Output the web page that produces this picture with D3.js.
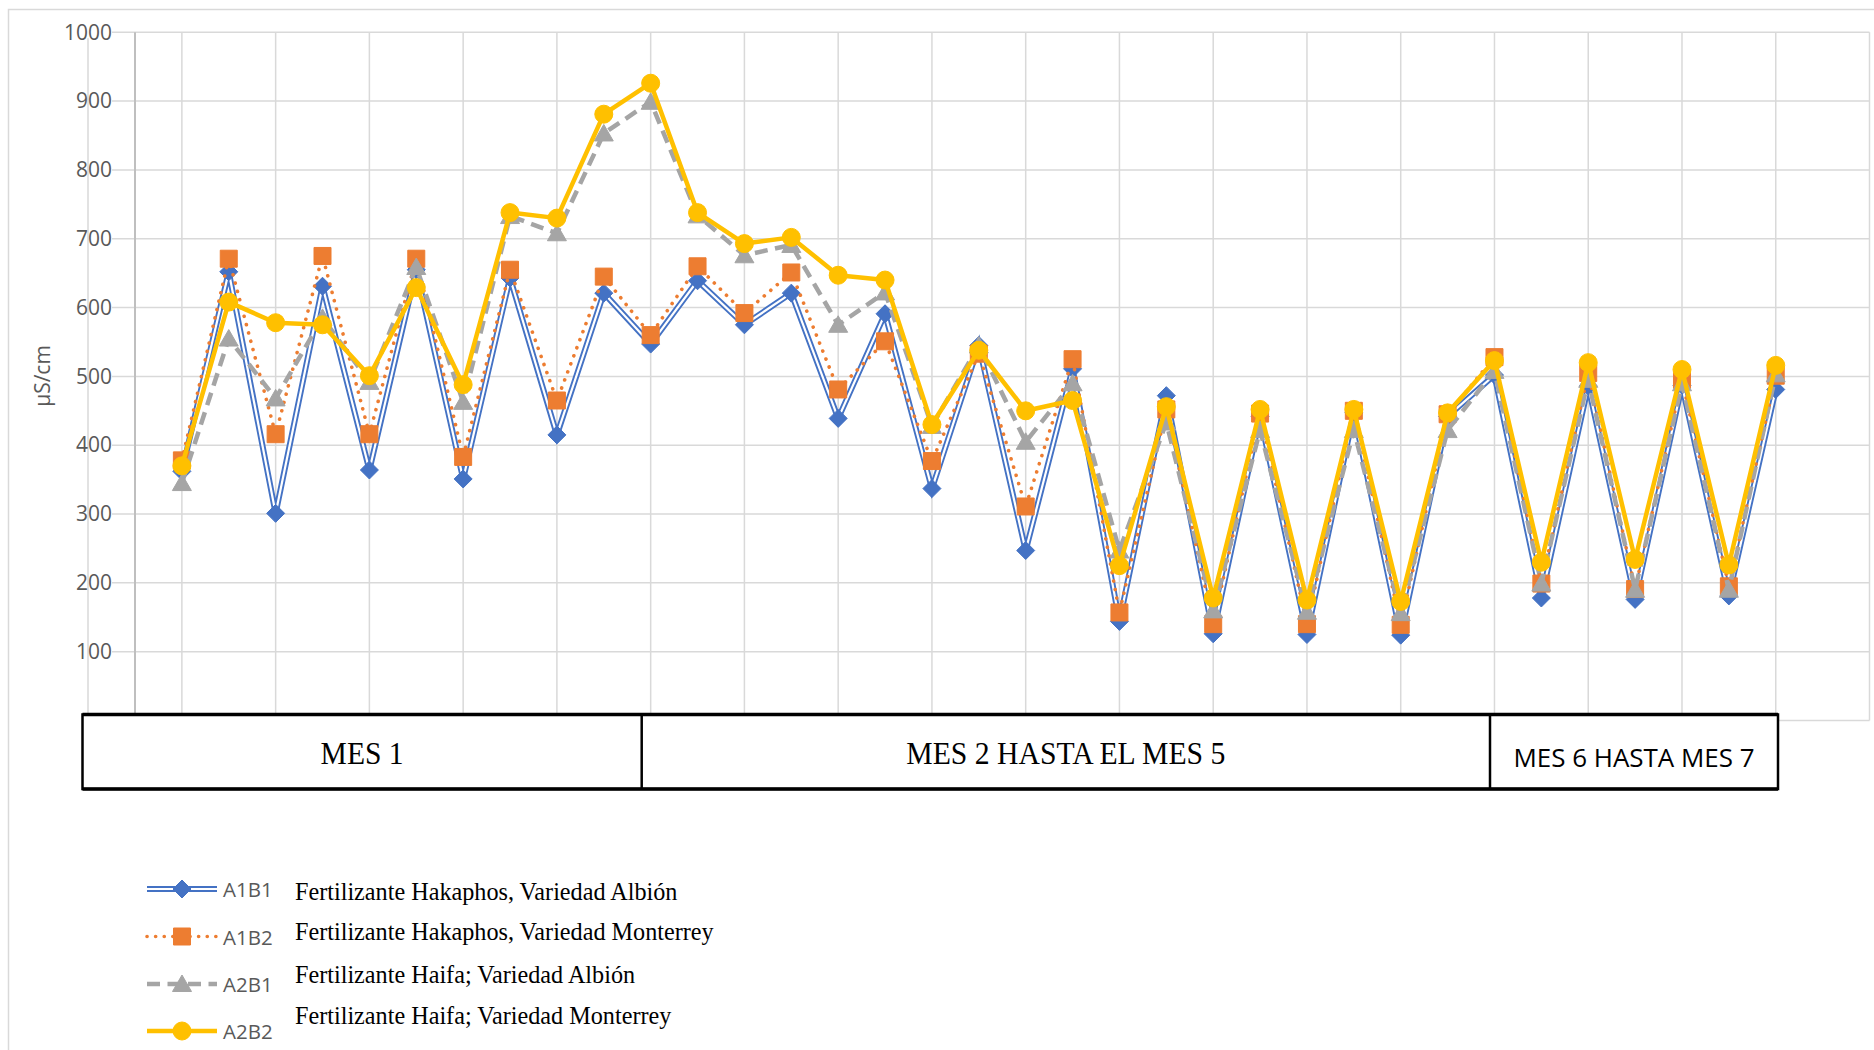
<!DOCTYPE html>
<html>
<head>
<meta charset="utf-8">
<script src="https://cdn.jsdelivr.net/npm/d3@7"></script>
<style>
  html, body { margin: 0; padding: 0; background: #fff; }
  svg { display: block; }
</style>
</head>
<body>
<svg id="chart" width="1874" height="1050"></svg>
<script>
// Conductividad eléctrica (µS/cm) por muestreo y tratamiento
const samplings = d3.range(1, 36);

const a1b1 = [362, 652, 301, 631, 364, 655, 351, 643, 415, 621, 547, 639, 575, 621, 439, 591, 337, 545, 247, 511,
              144, 472, 126, 442, 125, 447, 124, 442, 502, 178, 486, 176, 487, 181, 481];
const a1b2 = [378, 671, 416, 675, 416, 671, 383, 655, 465, 645, 560, 660, 592, 651, 481, 551, 377, 533, 311, 525,
              157, 452, 140, 446, 140, 450, 139, 445, 528, 199, 505, 191, 495, 195, 501];
const a2b1 = [345, 555, 468, 585, 492, 659, 463, 733, 708, 853, 899, 734, 676, 691, 575, 622, 428, 545, 405, 490,
              247, 433, 160, 422, 158, 422, 156, 422, 508, 199, 495, 190, 490, 190, 503];
const a2b2 = [370, 608, 578, 575, 501, 629, 488, 738, 730, 881, 926, 738, 693, 702, 647, 640, 430, 538, 450, 465,
              225, 456, 178, 452, 175, 452, 173, 447, 523, 230, 520, 234, 510, 226, 516];

const yTicks = [100, 200, 300, 400, 500, 600, 700, 800, 900, 1000];
const gridValues = [0, 100, 200, 300, 400, 500, 600, 700, 800, 900, 1000];

const periods = ["MES 1", "MES 2 HASTA EL MES 5", "MES 6 HASTA MES 7"];
const seriesCodes = ["A1B1", "A1B2", "A2B1", "A2B2"];
const seriesNames = [
  "Fertilizante Hakaphos, Variedad Albión",
  "Fertilizante Hakaphos, Variedad Monterrey",
  "Fertilizante Haifa; Variedad Albión",
  "Fertilizante Haifa; Variedad Monterrey"
];
const yTitle = "µS/cm";

// ---- layout ----
const svg = d3.select("#chart");
const plot = { left: 135, right: 1869.5, top: 32.3, bottom: 720.5 };
const x = d3.scaleLinear().domain([0, 37]).range([plot.left, plot.right]);
const y = d3.scaleLinear().domain([0, 1000]).range([plot.bottom, plot.top]);

const sansFont = "'Open Sans', 'Noto Sans', sans-serif";
const serifFont = "'Liberation Serif', 'DejaVu Serif', serif";
const labelGrey = "#595959";
const gridGrey = "#D9D9D9";

// outer chart frame
svg.append("rect")
  .attr("x", 8.5).attr("y", 9.5)
  .attr("width", 1920).attr("height", 1100)
  .attr("fill", "none").attr("stroke", gridGrey).attr("stroke-width", 1.5);

// ---- grid ----
const grid = svg.append("g");
grid.selectAll("line.h").data(gridValues).join("line")
  .attr("class", "h")
  .attr("x1", 112).attr("x2", plot.right)
  .attr("y1", d => y(d)).attr("y2", d => y(d))
  .attr("stroke", gridGrey).attr("stroke-width", 1.5);

const vGrid = d3.range(1, 38, 2);
grid.selectAll("line.v").data(vGrid).join("line")
  .attr("class", "v")
  .attr("x1", d => x(d)).attr("x2", d => x(d))
  .attr("y1", y(1000)).attr("y2", y(0))
  .attr("stroke", gridGrey).attr("stroke-width", 1.5);

// faint guide line left of the axis
grid.append("line")
  .attr("x1", 88).attr("x2", 88)
  .attr("y1", y(1000) + 6).attr("y2", y(0))
  .attr("stroke", gridGrey).attr("stroke-width", 1.5);

// value axis line
svg.append("line")
  .attr("x1", x(0)).attr("x2", x(0))
  .attr("y1", y(1000)).attr("y2", y(0))
  .attr("stroke", "#BFBFBF").attr("stroke-width", 2);

// value axis labels
const yAxis = d3.axisLeft(y).tickValues(yTicks).tickFormat(d3.format("d")).tickSize(0).tickPadding(0);
const yAxisG = svg.append("g").attr("transform", "translate(112,0)").call(yAxis);
yAxisG.select(".domain").remove();
yAxisG.selectAll("text")
  .attr("fill", labelGrey)
  .style("font-family", sansFont)
  .style("font-size", "21px");

// axis title
svg.append("text")
  .attr("transform", "translate(42,376) rotate(-90)")
  .attr("text-anchor", "middle")
  .attr("dominant-baseline", "central")
  .attr("fill", labelGrey)
  .style("font-family", sansFont)
  .style("font-size", "21px")
  .text(yTitle);

// ---- series ----
const markerPaths = {
  diamond: "M0,-9L9,0L0,9L-9,0Z",
  square: "M-8.5,-8.5H8.5V8.5H-8.5Z",
  triangle: "M0,-9L9.5,7.5L-9.5,7.5Z",
  circle: d3.symbol(d3.symbolCircle, Math.PI * 9 * 9)()
};

const series = [
  { values: a1b1, color: "#4472C4", marker: "diamond", kind: "double" },
  { values: a1b2, color: "#ED7D31", marker: "square",  kind: "dot" },
  { values: a2b1, color: "#A5A5A5", marker: "triangle", kind: "dash" },
  { values: a2b2, color: "#FFC000", marker: "circle",  kind: "solid" }
];

function strokeLine(sel, s) {
  if (s.kind === "double") {
    sel.attr("stroke", s.color).attr("stroke-width", 6);
  } else if (s.kind === "dot") {
    sel.attr("stroke", s.color).attr("stroke-width", 3.6)
      .attr("stroke-linecap", "round").attr("stroke-dasharray", "0.1 8.5");
  } else if (s.kind === "dash") {
    sel.attr("stroke", s.color).attr("stroke-width", 4.5)
      .attr("stroke-dasharray", "13 7.5");
  } else {
    sel.attr("stroke", s.color).attr("stroke-width", 4.5)
      .attr("stroke-linejoin", "round");
  }
  return sel.attr("fill", "none");
}

const line = d3.line().x((d, i) => x(samplings[i])).y(d => y(d));

series.forEach(s => {
  const g = svg.append("g");
  g.append("path").datum(s.values).attr("d", line).call(strokeLine, s);
  if (s.kind === "double") {
    g.append("path").datum(s.values).attr("d", line)
      .attr("fill", "none").attr("stroke", "#fff").attr("stroke-width", 2.2);
  }
  g.selectAll("path.m").data(s.values).join("path")
    .attr("class", "m")
    .attr("d", markerPaths[s.marker])
    .attr("transform", (d, i) => `translate(${x(samplings[i])},${y(d)})`)
    .attr("fill", s.color)
    .attr("stroke", s.color).attr("stroke-width", 1);
});

// ---- period boxes ----
const boxTop = 714.5, boxBottom = 789;
const boxEdges = [82.5, 641.7, 1490, 1778];
const periodFonts = [serifFont, serifFont, sansFont];
const periodSizes = [31, 31, 26];
const periodWidths = [83, 319, 241];
const periodY = [753, 753, 757];

const boxes = svg.append("g");
boxes.append("rect")
  .attr("x", boxEdges[0]).attr("y", boxTop)
  .attr("width", boxEdges[3] - boxEdges[0]).attr("height", boxBottom - boxTop)
  .attr("fill", "#fff").attr("stroke", "#000").attr("stroke-width", 2.5);
[boxTop, boxBottom].forEach(yy => {
  boxes.append("line")
    .attr("x1", boxEdges[0]).attr("x2", boxEdges[3])
    .attr("y1", yy).attr("y2", yy)
    .attr("stroke", "#000").attr("stroke-width", 3.5);
});
boxEdges.slice(1, 3).forEach(xx => {
  boxes.append("line")
    .attr("x1", xx).attr("x2", xx)
    .attr("y1", boxTop).attr("y2", boxBottom)
    .attr("stroke", "#000").attr("stroke-width", 2.5);
});
periods.forEach((p, i) => {
  boxes.append("text")
    .attr("x", (boxEdges[i] + boxEdges[i + 1]) / 2)
    .attr("y", periodY[i])
    .attr("text-anchor", "middle")
    .attr("dominant-baseline", "central")
    .attr("textLength", periodWidths[i])
    .attr("lengthAdjust", "spacingAndGlyphs")
    .attr("fill", "#000")
    .style("font-family", periodFonts[i])
    .style("font-size", periodSizes[i] + "px")
    .text(p);
});

// ---- legend ----
const legendRowY = [889, 936.5, 984, 1031];
const legendDescY = [891, 931.5, 974, 1015];
const legend = svg.append("g");
series.forEach((s, i) => {
  const row = legend.append("g");
  const yy = legendRowY[i];
  const seg = row.append("line")
    .attr("x1", 147).attr("x2", 217).attr("y1", yy).attr("y2", yy);
  strokeLine(seg, s);
  if (s.kind === "double") {
    row.append("line").attr("x1", 147).attr("x2", 217).attr("y1", yy).attr("y2", yy)
      .attr("stroke", "#fff").attr("stroke-width", 2.2);
  }
  row.append("path")
    .attr("d", markerPaths[s.marker])
    .attr("transform", `translate(182,${yy})`)
    .attr("fill", s.color).attr("stroke", s.color).attr("stroke-width", 1);
  row.append("text")
    .attr("x", 223).attr("y", yy)
    .attr("dominant-baseline", "central")
    .attr("fill", labelGrey)
    .style("font-family", sansFont)
    .style("font-size", "20.5px")
    .text(seriesCodes[i]);
  row.append("text")
    .attr("x", 295).attr("y", legendDescY[i])
    .attr("dominant-baseline", "central")
    .attr("fill", "#000")
    .style("font-family", serifFont)
    .style("font-size", "24.2px")
    .text(seriesNames[i]);
});
</script>
</body>
</html>
